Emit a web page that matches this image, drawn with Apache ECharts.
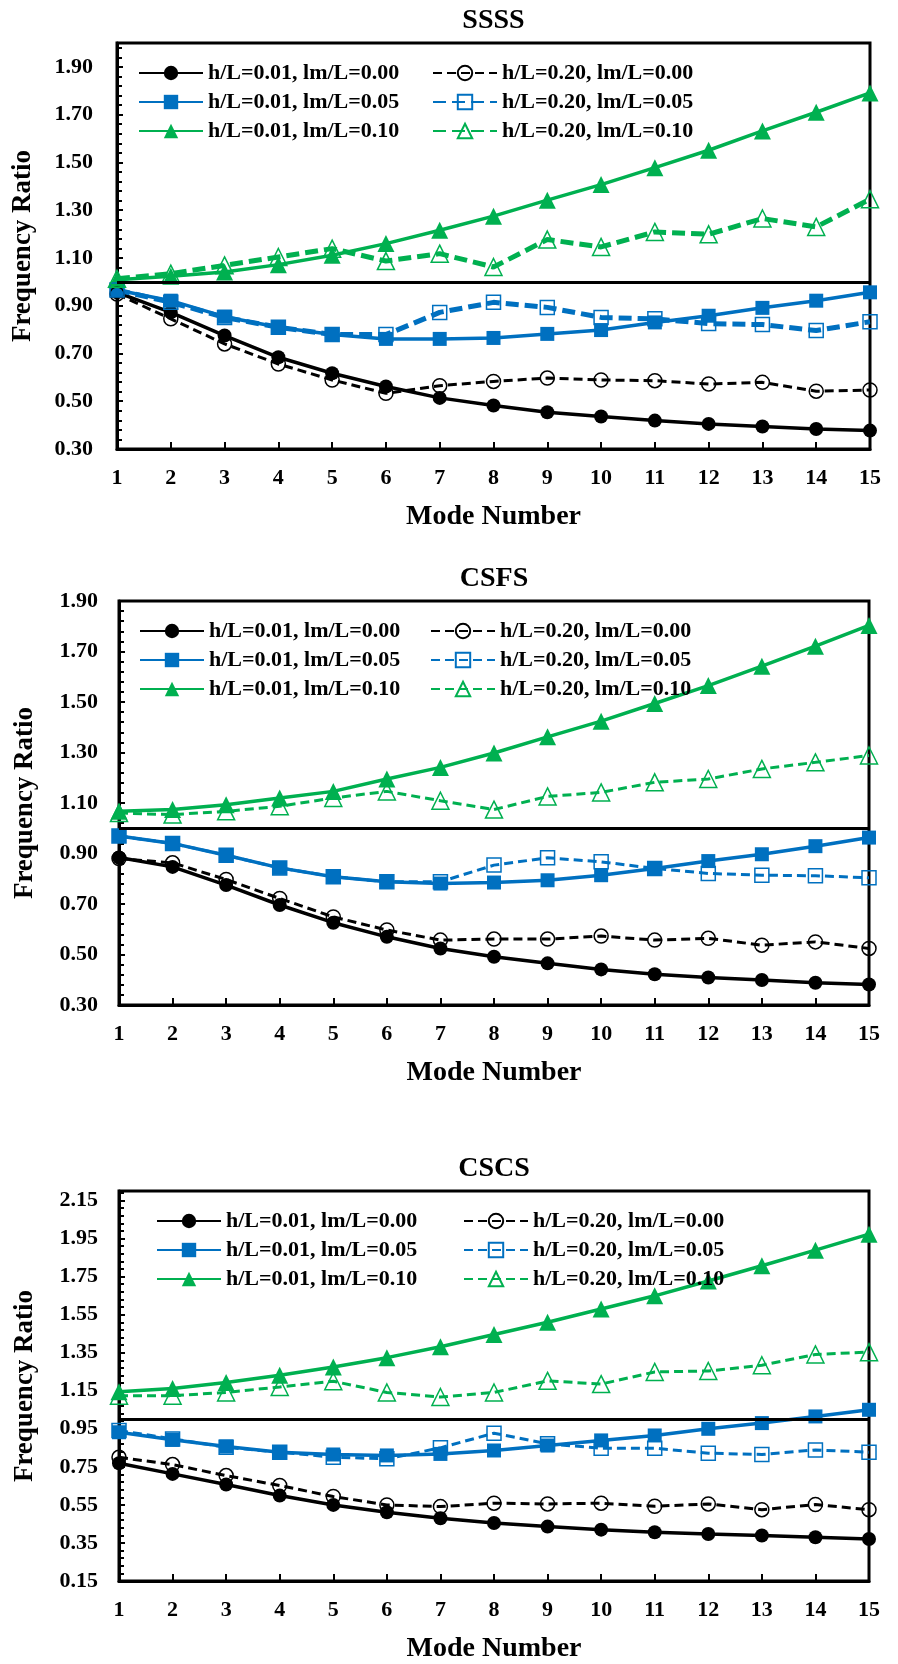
<!DOCTYPE html>
<html lang="en">
<head>
    <meta charset="UTF-8">
    <title>Frequency Ratio</title>
    <script src="https://cdn.jsdelivr.net/npm/echarts@6/dist/echarts.min.js"></script>
</head>
<style>
html,body{margin:0;padding:0;background:#fff;}
#chartBox{width:898px;height:1664px;}
</style>
<body>
    <div id="chartBox"></div>
</body>
<script>
// mode number (x axis)
const modes = ['1','2','3','4','5','6','7','8','9','10','11','12','13','14','15'];

// SSSS
const ssss_h01_lm00 = [0.956, 0.872, 0.775, 0.684, 0.617, 0.562, 0.514, 0.482, 0.454, 0.436, 0.419, 0.405, 0.394, 0.384, 0.377];
const ssss_h20_lm00 = [0.949, 0.845, 0.740, 0.656, 0.589, 0.533, 0.565, 0.583, 0.597, 0.589, 0.586, 0.572, 0.579, 0.542, 0.547];
const ssss_h01_lm05 = [0.966, 0.921, 0.854, 0.810, 0.779, 0.761, 0.761, 0.765, 0.782, 0.798, 0.830, 0.858, 0.891, 0.921, 0.956];
const ssss_h20_lm05 = [0.966, 0.914, 0.851, 0.810, 0.779, 0.779, 0.872, 0.914, 0.893, 0.851, 0.845, 0.825, 0.821, 0.796, 0.833];
const ssss_h01_lm10 = [1.009, 1.023, 1.041, 1.072, 1.111, 1.160, 1.216, 1.275, 1.342, 1.407, 1.478, 1.551, 1.632, 1.710, 1.791];
const ssss_h20_lm10 = [1.013, 1.034, 1.069, 1.104, 1.139, 1.087, 1.118, 1.062, 1.177, 1.146, 1.209, 1.199, 1.265, 1.230, 1.346];

// CSFS
const csfs_h01_lm00 = [0.884, 0.847, 0.775, 0.696, 0.626, 0.570, 0.524, 0.491, 0.465, 0.441, 0.422, 0.409, 0.399, 0.388, 0.381];
const csfs_h20_lm00 = [0.880, 0.863, 0.797, 0.722, 0.649, 0.597, 0.557, 0.561, 0.561, 0.573, 0.557, 0.564, 0.537, 0.550, 0.524];
const csfs_h01_lm05 = [0.969, 0.940, 0.893, 0.843, 0.808, 0.788, 0.781, 0.785, 0.794, 0.814, 0.841, 0.870, 0.897, 0.929, 0.963];
const csfs_h20_lm05 = [0.969, 0.940, 0.893, 0.843, 0.808, 0.788, 0.788, 0.854, 0.883, 0.867, 0.841, 0.821, 0.814, 0.812, 0.804];
const csfs_h01_lm10 = [1.067, 1.074, 1.093, 1.120, 1.146, 1.195, 1.241, 1.298, 1.362, 1.424, 1.494, 1.565, 1.642, 1.721, 1.803];
const csfs_h20_lm10 = [1.060, 1.054, 1.067, 1.087, 1.120, 1.146, 1.109, 1.074, 1.126, 1.142, 1.182, 1.195, 1.235, 1.261, 1.288];

// CSCS
const cscs_h01_lm00 = [0.769, 0.713, 0.657, 0.599, 0.550, 0.511, 0.480, 0.455, 0.436, 0.420, 0.406, 0.397, 0.389, 0.380, 0.371];
const cscs_h20_lm00 = [0.800, 0.762, 0.704, 0.652, 0.594, 0.550, 0.541, 0.559, 0.555, 0.559, 0.543, 0.555, 0.525, 0.552, 0.525];
const cscs_h01_lm05 = [0.932, 0.892, 0.857, 0.827, 0.815, 0.810, 0.818, 0.836, 0.862, 0.889, 0.915, 0.950, 0.980, 1.015, 1.050];
const cscs_h20_lm05 = [0.941, 0.897, 0.853, 0.827, 0.801, 0.792, 0.850, 0.927, 0.871, 0.848, 0.848, 0.822, 0.815, 0.839, 0.827];
const cscs_h01_lm10 = [1.145, 1.162, 1.193, 1.232, 1.275, 1.324, 1.381, 1.446, 1.510, 1.580, 1.649, 1.727, 1.807, 1.889, 1.973];
const cscs_h20_lm10 = [1.124, 1.124, 1.141, 1.170, 1.200, 1.141, 1.117, 1.141, 1.202, 1.185, 1.249, 1.254, 1.284, 1.341, 1.353];

// legend texts
const names_h01 = ['h/L=0.01, lm/L=0.00', 'h/L=0.01, lm/L=0.05', 'h/L=0.01, lm/L=0.10'];
const names_h20 = ['h/L=0.20, lm/L=0.00', 'h/L=0.20, lm/L=0.05', 'h/L=0.20, lm/L=0.10'];

// y axis ranges [min, max] and tick step
const yRanges = [[0.30, 2.00], [0.30, 1.90], [0.15, 2.20]];
const yStep = 0.2;

const FONT = 'Liberation Serif';
const BLACK = '#000000', BLUE = '#0070C0', GREEN = '#00B050';

// panel boxes (px)
const panels = [
    {tag: 'SSSS', left: 117, right: 28, top: 43, height: 406, titleTop: 7,
     legendTop: 62, legendLeft: [138, 432], thick: true},
    {tag: 'CSFS', left: 119, right: 29, top: 601, height: 404, titleTop: 565,
     legendTop: 620, legendLeft: [139, 430], thick: false},
    {tag: 'CSCS', left: 119, right: 29, top: 1191, height: 392, titleTop: 1155,
     legendTop: 1210, legendLeft: [156, 463], thick: false}
];

function lineSeries(tag, idx, name, data, color, symbol, hollow, dash, width) {
    let sizes = {circle: 14, rect: 14, triangle: 17};
    let s = {
        type: 'line',
        name: tag + '|' + name,
        xAxisIndex: idx,
        yAxisIndex: idx,
        data: data,
        symbol: symbol,
        symbolSize: sizes[symbol],
        showAllSymbol: true,
        animation: false,
        lineStyle: {color: color, width: width, type: dash},
        itemStyle: {color: color}
    };
    if (hollow) {
        s.itemStyle = {color: 'transparent', borderColor: color, borderWidth: 1.5};
    }
    return s;
}

function panelSeries(p, idx, sets) {
    let dashW = p.thick ? 5 : 3;
    let dashT = p.thick ? [13, 6] : [9, 5];
    let list = [
        lineSeries(p.tag, idx, names_h01[0], sets[0], BLACK, 'circle', false, 'solid', 3.5),
        lineSeries(p.tag, idx, names_h01[1], sets[2], BLUE, 'rect', false, 'solid', 3.5),
        lineSeries(p.tag, idx, names_h01[2], sets[4], GREEN, 'triangle', false, 'solid', 3.5),
        lineSeries(p.tag, idx, names_h20[0], sets[1], BLACK, 'circle', true, [9, 5], 3),
        lineSeries(p.tag, idx, names_h20[1], sets[3], BLUE, 'rect', true, dashT, dashW),
        lineSeries(p.tag, idx, names_h20[2], sets[5], GREEN, 'triangle', true, dashT, dashW)
    ];
    // ratio = 1 reference line
    list[0].markLine = {
        silent: true,
        symbol: 'none',
        animation: false,
        label: {show: false},
        lineStyle: {color: BLACK, width: 3, type: 'solid'},
        data: [{yAxis: 1}]
    };
    return list;
}

function legendCol(p, names, left) {
    return {
        orient: 'vertical',
        left: left,
        top: p.legendTop,
        padding: 0,
        itemWidth: 64,
        itemHeight: 18,
        itemGap: 7,
        selectedMode: false,
        data: names.map(n => p.tag + '|' + n),
        formatter: n => n.split('|')[1],
        textStyle: {fontFamily: FONT, fontWeight: 'bold', fontSize: 22, color: BLACK}
    };
}

function generateOption() {
    let allSets = [
        [ssss_h01_lm00, ssss_h20_lm00, ssss_h01_lm05, ssss_h20_lm05, ssss_h01_lm10, ssss_h20_lm10],
        [csfs_h01_lm00, csfs_h20_lm00, csfs_h01_lm05, csfs_h20_lm05, csfs_h01_lm10, csfs_h20_lm10],
        [cscs_h01_lm00, cscs_h20_lm00, cscs_h01_lm05, cscs_h20_lm05, cscs_h01_lm10, cscs_h20_lm10]
    ];
    let option = {
        backgroundColor: '#fff',
        animation: false,
        textStyle: {fontFamily: FONT},
        title: [], grid: [], xAxis: [], yAxis: [], legend: [], series: []
    };
    panels.forEach((p, i) => {
        let plotW = 898 - p.left - p.right;
        option.title.push({
            text: p.tag,
            left: p.left + plotW / 2,
            top: p.titleTop,
            textAlign: 'center',
            padding: 0,
            textStyle: {fontFamily: FONT, fontWeight: 'bold', fontSize: 28, color: BLACK}
        });
        option.grid.push({
            left: p.left, right: p.right, top: p.top, height: p.height,
            show: true, borderColor: BLACK, borderWidth: 3
        });
        option.xAxis.push({
            type: 'category',
            gridIndex: i,
            data: modes,
            boundaryGap: false,
            name: 'Mode Number',
            nameLocation: 'middle',
            nameGap: 54,
            nameTextStyle: {fontFamily: FONT, fontWeight: 'bold', fontSize: 28, color: BLACK},
            axisLine: {lineStyle: {color: BLACK, width: 3}},
            axisTick: {inside: true, length: 7, lineStyle: {color: BLACK, width: 2}},
            axisLabel: {margin: 18, color: BLACK, fontFamily: FONT, fontWeight: 'bold', fontSize: 22},
            splitLine: {show: false}
        });
        option.yAxis.push({
            type: 'value',
            gridIndex: i,
            min: yRanges[i][0],
            max: yRanges[i][1],
            interval: yStep,
            name: 'Frequency Ratio',
            nameLocation: 'middle',
            nameGap: 80,
            nameTextStyle: {fontFamily: FONT, fontWeight: 'bold', fontSize: 27, color: BLACK},
            axisLine: {show: true, lineStyle: {color: BLACK, width: 3}},
            axisTick: {show: true, inside: true, length: 6, lineStyle: {color: BLACK, width: 2}},
            minorTick: {show: true, splitNumber: 5, length: 5, lineStyle: {color: BLACK, width: 2}},
            axisLabel: {
                margin: i === 0 ? 24 : 21,
                showMaxLabel: i === 1,
                color: BLACK, fontFamily: FONT, fontWeight: 'bold', fontSize: 22,
                formatter: v => v.toFixed(2)
            },
            splitLine: {show: false}
        });
        option.legend.push(legendCol(p, names_h01, p.legendLeft[0]));
        option.legend.push(legendCol(p, names_h20, p.legendLeft[1]));
        option.series = option.series.concat(panelSeries(p, i, allSets[i]));
    });
    return option;
}

let chartObj = echarts.init(document.getElementById('chartBox'), null, {renderer: 'canvas'});
chartObj.setOption(generateOption());
</script>
</html>
